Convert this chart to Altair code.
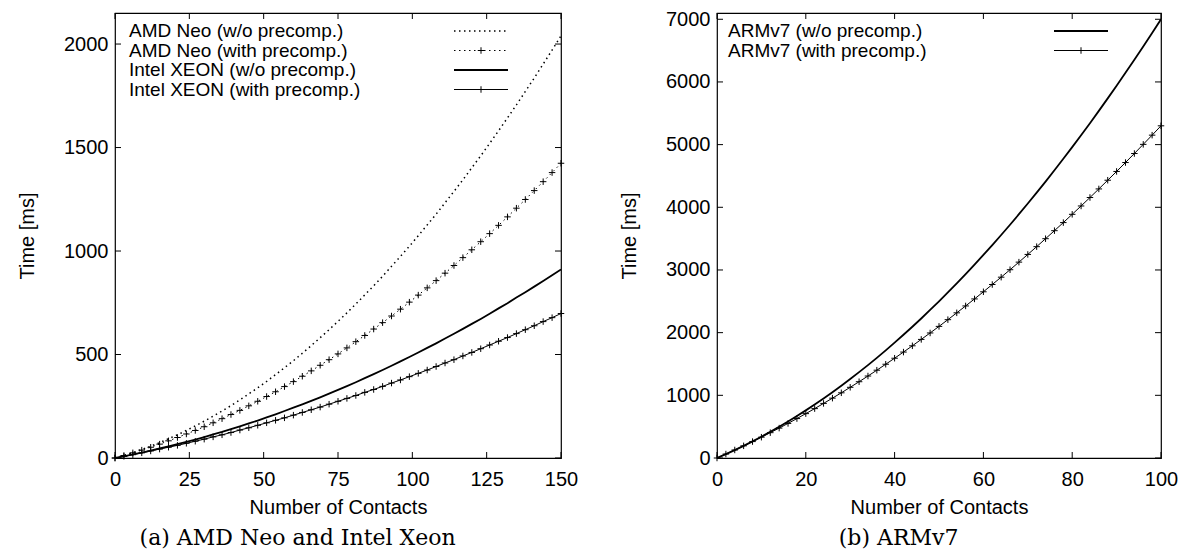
import altair as alt
import pandas as pd

# ---------------- data ----------------
left_x = list(range(0, 151, 3))
amd_wo = [0, 13, 26, 41, 57, 74, 93, 112, 133, 155, 178, 202, 227, 253, 281, 310, 339, 370,
          403, 436, 470, 506, 543, 581, 620, 660, 701, 744, 788, 832, 878, 926, 974, 1023,
          1074, 1126, 1178, 1233, 1288, 1344, 1402, 1460, 1520, 1581, 1643, 1706, 1771,
          1836, 1903, 1971, 2040]
amd_with = [0, 12, 25, 38, 52, 67, 83, 99, 116, 133, 151, 170, 190, 210, 230, 252, 274, 297,
            320, 345, 369, 395, 421, 448, 475, 503, 532, 562, 592, 623, 654, 686, 719, 753,
            787, 822, 857, 893, 930, 968, 1006, 1045, 1084, 1124, 1165, 1207, 1249, 1292,
            1335, 1379, 1424]
intel_wo = [0, 8, 17, 26, 36, 46, 56, 67, 78, 89, 101, 114, 126, 140, 153, 167, 181, 196,
            211, 227, 243, 259, 276, 293, 311, 329, 347, 366, 386, 405, 425, 446, 467, 488,
            510, 532, 554, 577, 600, 624, 648, 672, 697, 723, 748, 775, 801, 828, 855, 883, 911]
intel_with = [0, 8, 16, 25, 34, 43, 52, 61, 71, 81, 91, 102, 112, 123, 135, 146, 158, 170,
              182, 194, 207, 220, 233, 246, 260, 274, 288, 302, 317, 331, 346, 362, 377, 393,
              409, 425, 442, 459, 475, 493, 510, 528, 546, 564, 582, 601, 620, 639, 659, 678, 698]

right_x = list(range(0, 101, 2))
arm_wo = [0, 62, 126, 194, 266, 340, 418, 498, 582, 670, 760, 854, 950, 1050, 1154, 1260,
          1370, 1482, 1598, 1718, 1840, 1966, 2094, 2226, 2362, 2500, 2642, 2786, 2934, 3086,
          3240, 3398, 3558, 3722, 3890, 4060, 4234, 4410, 4590, 4774, 4960, 5150, 5342, 5538,
          5738, 5940, 6146, 6354, 6566, 6782, 7000]
arm_with = [0, 63, 128, 194, 262, 332, 404, 477, 552, 629, 708, 788, 871, 955, 1040, 1128,
            1217, 1308, 1401, 1496, 1592, 1690, 1790, 1892, 1995, 2100, 2207, 2316, 2426, 2538,
            2652, 2768, 2885, 3004, 3125, 3248, 3372, 3499, 3627, 3756, 3888, 4021, 4156, 4293,
            4432, 4572, 4714, 4858, 5004, 5151, 5300]

left_xticks = [0, 25, 50, 75, 100, 125, 150]
left_yticks = [0, 500, 1000, 1500, 2000]
right_xticks = [0, 20, 40, 60, 80, 100]
right_yticks = [0, 1000, 2000, 3000, 4000, 5000, 6000, 7000]

left_labels = ["AMD Neo (w/o precomp.)", "AMD Neo (with precomp.)",
               "Intel XEON (w/o precomp.)", "Intel XEON (with precomp.)"]
right_labels = ["ARMv7 (w/o precomp.)", "ARMv7 (with precomp.)"]

# ---------------- style ----------------
FONT = "Liberation Sans"
SERIF = "DejaVu Serif"
FS = 20
LFS = 19
H = 445
W1 = 446
W2 = 444
TICK = 6
CROSS = "M-1,0L1,0M0,-1L0,1"
DOT = [1.5, 3.5]


def make_axes(xticks, yticks):
    ax = alt.Axis(values=xticks, format="d", title="Number of Contacts", grid=False,
                  domain=False, ticks=False, labelFlush=False, labelPadding=11,
                  titlePadding=8)
    ay = alt.Axis(values=yticks, format="d", title="Time [ms]", grid=False, domain=False,
                  ticks=False, labelPadding=7, titlePadding=26)
    return ax, ay


def series_layers(xs, ys, ax, ay, xvals, yvals, dotted, markers, width):
    df = pd.DataFrame({"x": xvals, "y": yvals})
    props = dict(color="black", strokeWidth=width, clip=True)
    if dotted:
        props["strokeDash"] = DOT
    enc = dict(x=alt.X("x:Q", scale=xs, axis=ax), y=alt.Y("y:Q", scale=ys, axis=ay))
    out = [alt.Chart(df).mark_line(**props).encode(**enc)]
    if markers:
        out.append(alt.Chart(df).mark_point(shape=CROSS, filled=False, color="black",
                                            strokeWidth=1, size=42, opacity=1).encode(**enc))
    return out


def tick_layers(xs, ys, ax, ay, xticks, yticks, W):
    dx = pd.DataFrame({"x": xticks})
    dy = pd.DataFrame({"y": yticks})
    rp = dict(color="black", strokeWidth=1)
    X = alt.X("x:Q", scale=xs, axis=ax)
    Y = alt.Y("y:Q", scale=ys, axis=ay)
    return [
        alt.Chart(dx).mark_rule(**rp).encode(x=X, y=alt.value(H), y2=alt.value(H - TICK)),
        alt.Chart(dx).mark_rule(**rp).encode(x=X, y=alt.value(0), y2=alt.value(TICK)),
        alt.Chart(dy).mark_rule(**rp).encode(y=Y, x=alt.value(0), x2=alt.value(TICK)),
        alt.Chart(dy).mark_rule(**rp).encode(y=Y, x=alt.value(W - TICK), x2=alt.value(W)),
    ]


def legend_layers(labels, styles, W, text_x, row0=18, step=19.5):
    out = []
    x1, x2 = W - 107, W - 53
    for i, (lab, (dotted, marker, width)) in enumerate(zip(labels, styles)):
        yy = row0 + step * i
        d = pd.DataFrame({"label": [lab]})
        out.append(alt.Chart(d).mark_text(align="left", baseline="middle", font=FONT,
                                          fontSize=LFS, color="black").encode(
            x=alt.value(text_x), y=alt.value(yy), text="label:N"))
        rp = dict(color="black", strokeWidth=width)
        if dotted:
            rp["strokeDash"] = DOT
        out.append(alt.Chart(d).mark_rule(**rp).encode(
            x=alt.value(x1), x2=alt.value(x2), y=alt.value(yy)))
        if marker:
            out.append(alt.Chart(d).mark_point(shape=CROSS, filled=False, color="black",
                                               strokeWidth=1, size=42, opacity=1).encode(
                x=alt.value((x1 + x2) / 2), y=alt.value(yy)))
    return out


def caption(text):
    return alt.TitleParams(text, orient="bottom", anchor="middle", frame="bounds",
                           font=SERIF, fontSize=22, fontWeight="normal", color="black",
                           offset=11)


# left panel
xs1 = alt.Scale(domain=[0, 150], nice=False, zero=False)
ys1 = alt.Scale(domain=[0, 2150], nice=False)
ax1, ay1 = make_axes(left_xticks, left_yticks)
left_layers = []
left_layers += series_layers(xs1, ys1, ax1, ay1, left_x, amd_wo, True, False, 1.5)
left_layers += series_layers(xs1, ys1, ax1, ay1, left_x, amd_with, True, True, 1.0)
left_layers += series_layers(xs1, ys1, ax1, ay1, left_x, intel_wo, False, False, 1.8)
left_layers += series_layers(xs1, ys1, ax1, ay1, left_x, intel_with, False, True, 1.0)
left_layers += tick_layers(xs1, ys1, ax1, ay1, left_xticks, left_yticks, W1)
left_layers += legend_layers(left_labels, [(True, False, 1.5), (True, True, 1.0),
                                           (False, False, 1.8), (False, True, 1.0)], W1, 14)
left = alt.layer(*left_layers).properties(width=W1, height=H,
                                          title=caption("(a)  AMD Neo and Intel Xeon"))

# right panel
xs2 = alt.Scale(domain=[0, 100], nice=False, zero=False)
ys2 = alt.Scale(domain=[0, 7100], nice=False)
ax2, ay2 = make_axes(right_xticks, right_yticks)
right_layers = []
right_layers += series_layers(xs2, ys2, ax2, ay2, right_x, arm_wo, False, False, 1.8)
right_layers += series_layers(xs2, ys2, ax2, ay2, right_x, arm_with, False, True, 1.0)
right_layers += tick_layers(xs2, ys2, ax2, ay2, right_xticks, right_yticks, W2)
right_layers += legend_layers(right_labels, [(False, False, 1.8), (False, True, 1.0)], W2, 11)
right = alt.layer(*right_layers).properties(width=W2, height=H,
                                            title=caption("(b)  ARMv7"))

chart = alt.hconcat(left, right, spacing=156, bounds="flush").configure(
    padding={"left": 8, "top": 0, "right": 0, "bottom": 0},
    font=FONT,
).configure_view(stroke="black", strokeWidth=1.2).configure_axis(
    labelFont=FONT, labelFontSize=FS, labelColor="black",
    titleFont=FONT, titleFontSize=FS, titleFontWeight="normal", titleColor="black",
)

chart.save("out.html", embed_options={"renderer": "svg", "actions": False})
